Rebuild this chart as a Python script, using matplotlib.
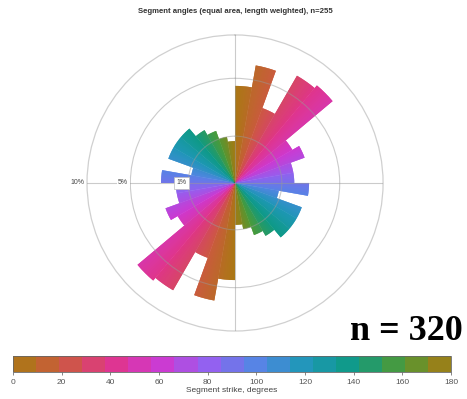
import numpy as np
import matplotlib
matplotlib.use("Agg")
import matplotlib.pyplot as plt
from matplotlib.colors import LinearSegmentedColormap, ListedColormap, Normalize
from matplotlib.cm import ScalarMappable

plt.rcParams['font.family'] = ['Liberation Sans', 'DejaVu Sans']

# strike bins (degrees) and share of total segment length in each (%), 0-180 half of the rose
bin_start = [0, 10, 20, 30, 40, 50, 60, 70, 80, 90, 100, 110, 120, 130, 140, 150, 160, 170]
length_pct = [4.3, 6.5, 2.9, 7.0, 7.4, 2.0, 2.5, 1.6, 1.6, 2.5, 0.9, 2.3, 2.3, 2.3, 1.7, 1.4, 1.0, 0.8]
bin_width = 10

ring_pct = [1, 5, 10]
ring_labels = ['1%', '5%', '10%']
cbar_ticks = [0, 20, 40, 60, 80, 100, 120, 140, 160, 180]

title = 'Segment angles (equal area, length weighted), n=255'
n_text = 'n = 320'

# cyclic strike colour scale
phase = LinearSegmentedColormap.from_list('phase', [
    '#a97a12', '#cc5a40', '#e0358a', '#cf38d0', '#9560f0',
    '#5585e5', '#1f97b8', '#0e9a85', '#4f9a36', '#a97a12'])

fig = plt.figure(figsize=(4.67, 3.99), dpi=100)
ax = fig.add_axes([0.1863, 0.1704, 0.634, 0.742], projection='polar')
ax.set_theta_zero_location('N')
ax.set_theta_direction(-1)

# solid petal underneath each bin, mirrored through 180 degrees
base_t, base_r, base_c = [], [], []
for start, pct in zip(bin_start, length_pct):
    c = phase((start + bin_width / 2) / 180)
    for offset in (0, 180):
        base_t.append(np.deg2rad(start + offset))
        base_r.append(np.sqrt(pct))  # equal area scaling
        base_c.append(c)
ax.bar(base_t, base_r, width=np.deg2rad(bin_width), align='edge',
       color=base_c, linewidth=0, zorder=1)

# thin slivers on top so the colour follows strike inside each petal
step = 0.5
thetas, heights, colors = [], [], []
for start, pct in zip(bin_start, length_pct):
    for sub in np.arange(start, start + bin_width, step):
        c = phase((sub + step / 2) / 180)
        for offset in (0, 180):
            thetas.append(np.deg2rad(sub + offset))
            heights.append(np.sqrt(pct))
            colors.append(c)
ax.bar(thetas, heights, width=np.deg2rad(step), align='edge',
       color=colors, linewidth=0, zorder=1.5)

ax.set_ylim(0, np.sqrt(10))
ax.set_rgrids(np.sqrt(ring_pct[:-1]), labels=[])
ax.set_thetagrids([0, 90, 180, 270], labels=[])
ax.set_axisbelow(False)
ax.grid(True, color='#999999', linewidth=0.8, alpha=0.5)
ax.spines['polar'].set_color('#d0d0d0')
ax.spines['polar'].set_linewidth(0.9)

for pct, lab in zip(ring_pct, ring_labels):
    if pct == 1:
        box = dict(boxstyle='square,pad=0.35', facecolor='white', edgecolor='#bbbbbb', linewidth=0.5)
    else:
        box = dict(boxstyle='square,pad=0.2', facecolor='white', edgecolor='none')
    ax.annotate(lab, xy=(np.deg2rad(270), np.sqrt(pct)), xytext=(-1.5, 0),
                textcoords='offset points', ha='right', va='center',
                fontsize=5, color='#444444', bbox=box, zorder=5)

fig.text(0.503, 0.97, title, ha='center', va='center', fontsize=5.6,
         fontweight='bold', color='#333333')

# discrete colour bar below the rose
cax = fig.add_axes([0.028, 0.068, 0.938, 0.040])
disc = ListedColormap(phase((np.arange(19) + 0.5) / 19))
cb = fig.colorbar(ScalarMappable(norm=Normalize(0, 180), cmap=disc), cax=cax,
                  orientation='horizontal', ticks=cbar_ticks)
cb.outline.set_edgecolor('#666666')
cb.outline.set_linewidth(0.6)
cax.tick_params(labelsize=6, colors='#555555', length=2, width=0.5, pad=3)
cb.set_label('Segment strike, degrees', fontsize=6, color='#444444', labelpad=1)

fig.text(0.99, 0.148, n_text, ha='right', va='baseline', fontsize=26,
         fontweight='bold', family='Liberation Serif', color='black')

fig.savefig('out.png', dpi=100)
